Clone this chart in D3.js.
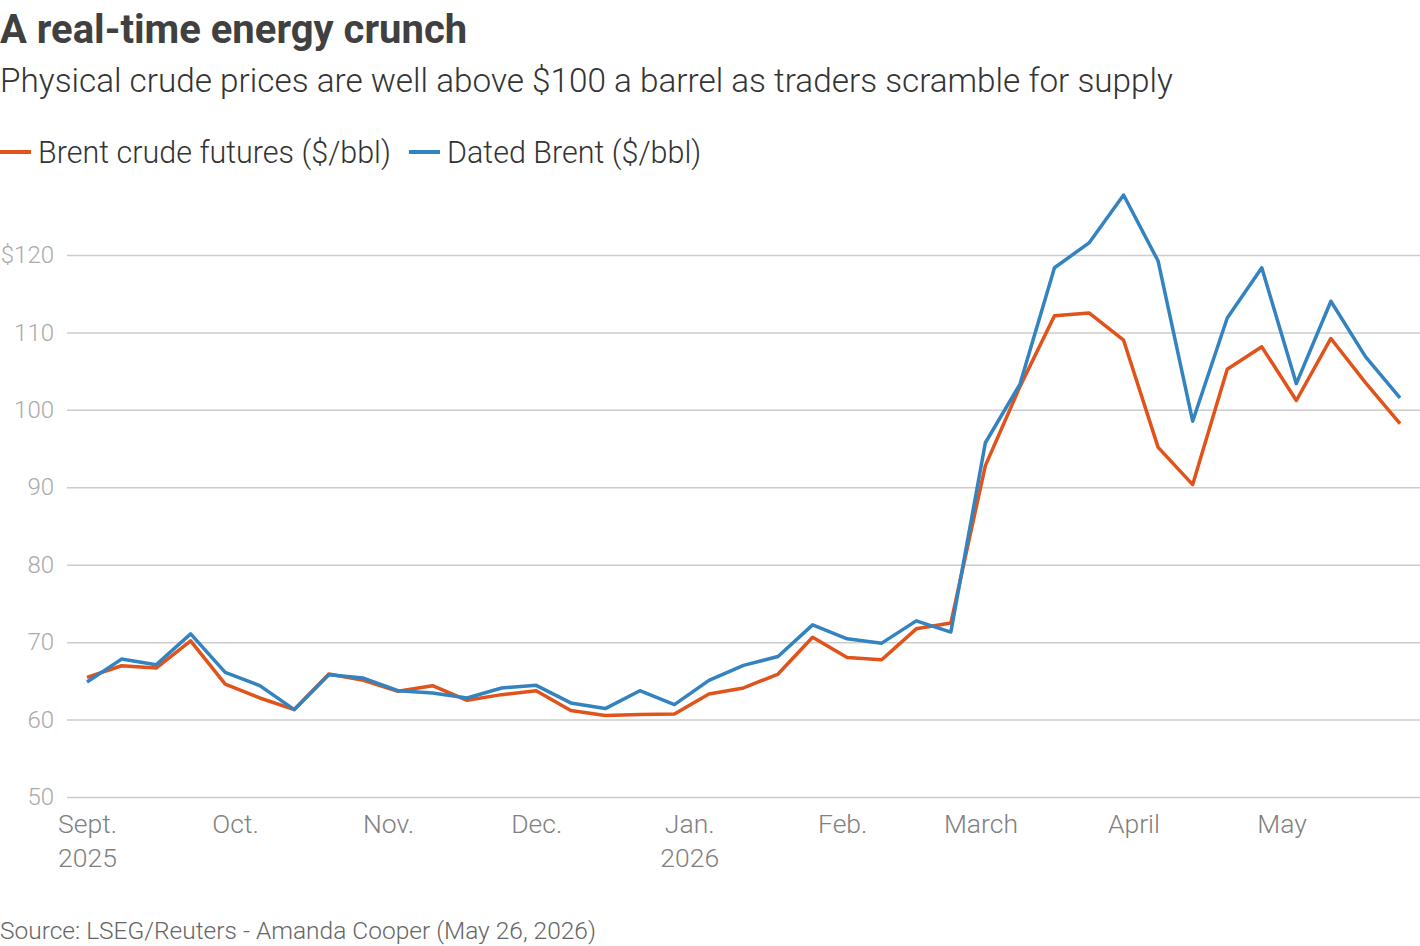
<!DOCTYPE html>
<html>
<head>
<meta charset="utf-8">
<script src="https://cdn.jsdelivr.net/npm/d3@7"></script>
<style>
  body { margin:0; background:#fff; }
  svg text { font-family: Roboto, "Noto Sans", sans-serif; }
</style>
</head>
<body>
<svg id="chart"></svg>
<script>
// weekly observations
var dates = ["2025-09-01","2025-09-08","2025-09-15","2025-09-22","2025-09-29",
             "2025-10-06","2025-10-13","2025-10-20","2025-10-27",
             "2025-11-03","2025-11-10","2025-11-17","2025-11-24",
             "2025-12-01","2025-12-08","2025-12-15","2025-12-22","2025-12-29",
             "2026-01-05","2026-01-12","2026-01-19","2026-01-26",
             "2026-02-02","2026-02-09","2026-02-16","2026-02-23",
             "2026-03-02","2026-03-09","2026-03-16","2026-03-23","2026-03-30",
             "2026-04-06","2026-04-13","2026-04-20","2026-04-27",
             "2026-05-04","2026-05-11","2026-05-18","2026-05-25"];

var brentFutures = [65.45,66.95,66.65,70.17,64.59,62.79,61.29,65.88,65.06,63.65,
                    64.38,62.49,63.22,63.73,61.16,60.52,60.64,60.73,63.3,64.08,
                    65.88,70.64,68.03,67.73,71.72,72.47,92.8,103.0,112.16,112.51,
                    109.0,95.15,90.35,105.24,108.14,101.21,109.22,103.51,98.23];

var datedBrent = [64.85,67.81,67.08,71.07,66.09,64.38,61.29,65.79,65.36,63.73,
                  63.43,62.79,64.08,64.42,62.15,61.42,63.73,61.93,65.06,67.0,
                  68.15,72.23,70.43,69.87,72.75,71.3,95.75,103.3,118.35,121.56,
                  127.75,119.22,98.53,111.86,118.35,103.38,114.03,106.88,101.56];

var yTicks = [50,60,70,80,90,100,110,120];
var monthTicks = ["2025-09-01","2025-10-01","2025-11-01","2025-12-01","2026-01-01",
                  "2026-02-01","2026-03-01","2026-04-01","2026-05-01"];
var monthLabels = ["Sept.","Oct.","Nov.","Dec.","Jan.","Feb.","March","April","May"];
var yearLabels = ["2025","","","","2026","","","",""];

var seriesNames = ["Brent crude futures ($/bbl)","Dated Brent ($/bbl)"];
var seriesColors = ["#e0531a","#3383c0"];

makeChart(1420,946,"svg#chart");

function makeChart(w,h,svgName) {
  var parse = d3.timeParse("%Y-%m-%d");

  var svg = d3.select(svgName)
              .attr("width",w)
              .attr("height",h);

  var xScale = d3.scaleTime()
                 .domain([parse(dates[0]),parse(dates[dates.length-1])])
                 .range([87,1400]);
  var yScale = d3.scaleLinear()
                 .domain([50,120])
                 .range([797,255]);

  // titles
  svg.append("text")
     .attr("x",0)
     .attr("y",43)
     .attr("fill","#404040")
     .attr("font-size",40)
     .attr("font-weight",700)
     .text("A real-time energy crunch");

  svg.append("text")
     .attr("x",0)
     .attr("y",92)
     .attr("fill","#333")
     .attr("font-size",33.3)
     .attr("font-weight",300)
     .text("Physical crude prices are well above $100 a barrel as traders scramble for supply");

  // legend
  var legendX = [0,409];
  var legend = svg.append("g")
                  .classed("legend",true);
  var legendItems = legend.selectAll("g")
                          .data(seriesNames)
                          .enter()
                          .append("g")
                          .attr("transform",function(d,i){
                            return "translate("+legendX[i]+",152)";
                          });
  legendItems.append("line")
             .attr("x1",0)
             .attr("x2",31)
             .attr("y1",0)
             .attr("y2",0)
             .attr("stroke",function(d,i){ return seriesColors[i]; })
             .attr("stroke-width",4);
  legendItems.append("text")
             .attr("x",38)
             .attr("y",11)
             .attr("fill","#333")
             .attr("font-size",30.5)
             .attr("font-weight",300)
             .text(function(d){ return d; });

  // y grid + labels
  var yAxis = d3.axisLeft(yScale)
                .tickValues(yTicks)
                .tickSize(-(1420-67))
                .tickPadding(13)
                .tickFormat(function(d){ return d==120 ? "$120" : d; });
  var yG = svg.append("g")
              .classed("yAxis",true)
              .attr("transform","translate(67,0)")
              .call(yAxis);
  yG.select(".domain").remove();
  yG.selectAll("line")
    .attr("stroke","#cccccc")
    .attr("stroke-width",1.5);
  yG.selectAll("text")
    .attr("fill","#aaaaaa")
    .attr("font-size",24)
    .attr("font-weight",300)
    .attr("font-family","Roboto, sans-serif");

  // x labels
  var xAxis = d3.axisBottom(xScale)
                .tickValues(monthTicks.map(parse))
                .tickSize(0)
                .tickPadding(0)
                .tickFormat(function(d,i){ return monthLabels[i]; });
  var xG = svg.append("g")
              .classed("xAxis",true)
              .attr("transform","translate(0,814)")
              .call(xAxis);
  xG.select(".domain").remove();
  xG.selectAll("text")
    .attr("fill","#808080")
    .attr("font-size",26.5)
    .attr("font-weight",300)
    .attr("font-family","Roboto, sans-serif");
  xG.selectAll(".tick")
    .append("text")
    .attr("y",53)
    .attr("fill","#808080")
    .attr("font-size",26.5)
    .attr("font-weight",300)
    .attr("font-family","Roboto, sans-serif")
    .text(function(d,i){ return yearLabels[i]; });

  // lines
  var seriesData = [brentFutures,datedBrent];
  var line = d3.line()
               .x(function(d,i){ return xScale(parse(dates[i])); })
               .y(function(d){ return yScale(d); });
  svg.append("g")
     .classed("plot",true)
     .selectAll("path")
     .data(seriesData)
     .enter()
     .append("path")
     .attr("d",line)
     .attr("fill","none")
     .attr("stroke",function(d,i){ return seriesColors[i]; })
     .attr("stroke-width",3.5)
     .attr("stroke-linejoin","round");

  // source
  svg.append("text")
     .attr("x",0)
     .attr("y",939)
     .attr("fill","#666")
     .attr("font-size",24.5)
     .attr("font-weight",300)
     .text("Source: LSEG/Reuters - Amanda Cooper (May 26, 2026)");
}
</script>
</body>
</html>
